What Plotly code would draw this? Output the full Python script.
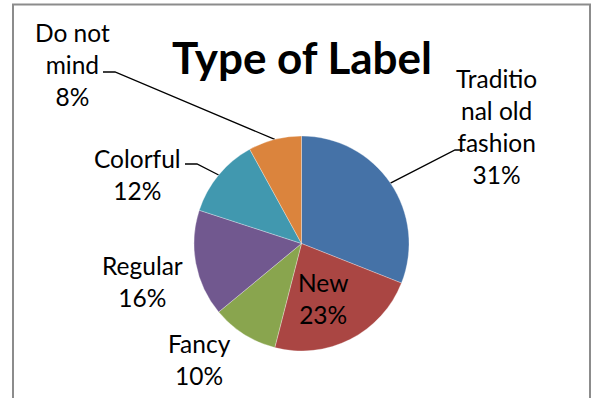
import math
import plotly.graph_objects as go

# ---- data ----
categories = ["Traditional old fashion", "New", "Fancy", "Regular", "Colorful", "Do not mind"]
label_texts = ["Traditio<br>nal old<br>fashion<br>31%", "New<br>23%", "Fancy<br>10%",
               "Regular<br>16%", "Colorful<br>12%", "Do not<br>mind<br>8%"]
values = [31, 23, 10, 16, 12, 8]
colors = ["#4572A7", "#AA4643", "#89A54E", "#71588F", "#4198AF", "#DB843D"]
title_text = "Type of Label"

# ---- layout constants (pixels) ----
W, H = 595, 398
cx, cy, r = 301.5, 243.5, 107.5
label_pos = {  # centre of each label block
    0: (496, 126), 1: (323, 298.5), 2: (199, 359),
    3: (142, 281), 4: (137, 174.5), 5: (72, 64),
}
# leader lines: (elbow, end) for labels that have one
leaders = {0: [(455, 150), (465, 150)], 4: [(197, 164), (185, 164)], 5: [(115, 72), (103, 72)]}
FONT = "Lato"

fig = go.Figure()
fig.add_trace(go.Pie(
    labels=categories, values=values, sort=False, direction="clockwise", rotation=0,
    marker=dict(colors=colors, line=dict(color="rgba(255,255,255,0.5)", width=0.6)),
    textinfo="none", hoverinfo="label+percent", showlegend=False,
    domain=dict(x=[(cx - r) / W, (cx + r) / W], y=[(H - cy - r) / H, (H - cy + r) / H]),
))

# leader lines from the mid-angle of each slice (computed from the values)
total = sum(values)
cum = 0
for i, v in enumerate(values):
    mid = (cum + v / 2) / total * 2 * math.pi
    cum += v
    if i in leaders:
        px = cx + r * math.sin(mid)
        py = cy - r * math.cos(mid)
        pts = [(px, py)] + leaders[i]
        fig.add_trace(go.Scatter(x=[p[0] for p in pts], y=[p[1] for p in pts], mode="lines",
                                 line=dict(color="black", width=1.3), hoverinfo="skip",
                                 showlegend=False))

for i, t in enumerate(label_texts):
    x, y = label_pos[i]
    fig.add_annotation(x=x, y=y, xref="x", yref="y", text=t, showarrow=False,
                       xanchor="center", yanchor="middle", align="center",
                       font=dict(family=FONT, size=24.5, color="black"))

fig.add_annotation(x=302, y=57, xref="x", yref="y", text="<b>" + title_text + "</b>",
                   showarrow=False, xanchor="center", yanchor="middle",
                   font=dict(family=FONT, size=44, color="black"))

# outer chart frame
fig.add_shape(type="rect", xref="x", yref="y", x0=13, y0=4.5, x1=590, y1=430,
              line=dict(color="#8C8C8C", width=2), fillcolor="rgba(0,0,0,0)", layer="below")

fig.update_layout(
    width=W, height=H, margin=dict(l=0, r=0, t=0, b=0),
    paper_bgcolor="white", plot_bgcolor="white",
    xaxis=dict(range=[0, W], visible=False, fixedrange=True),
    yaxis=dict(range=[H, 0], visible=False, fixedrange=True),
    showlegend=False,
)
fig.write_html("out.html", config={"displayModeBar": False},
               post_script="document.body.style.margin='0';")
